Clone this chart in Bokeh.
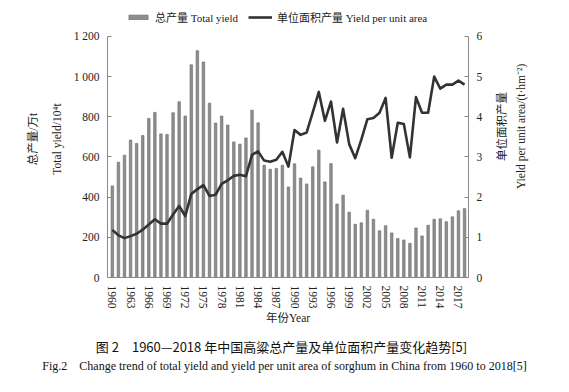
import math
from bokeh.plotting import figure
from bokeh.models import (Range1d, LinearAxis, FixedTicker, Legend, LegendItem,
                          ColumnDataSource)
from bokeh.layouts import row, column
from bokeh.core.properties import value
from bokeh.embed import file_html
from bokeh.resources import INLINE

years = list(range(1960, 2019))
total_yield = [456, 574, 609, 684, 667, 707, 792, 822, 715, 712,
               820, 875, 804, 1059, 1129, 1073, 868, 769, 804, 759,
               675, 664, 695, 833, 770, 559, 539, 543, 559, 451,
               566, 495, 466, 551, 634, 476, 567, 366, 410, 325,
               265, 272, 335, 290, 233, 258, 222, 194, 187, 170,
               247, 207, 260, 290, 292, 278, 302, 332, 343]
unit_yield = [1.18, 1.05, 0.98, 1.03, 1.09, 1.19, 1.32, 1.45, 1.34, 1.34,
              1.57, 1.78, 1.53, 2.08, 2.20, 2.30, 2.03, 2.06, 2.33, 2.42,
              2.53, 2.56, 2.52, 3.05, 3.14, 2.91, 2.88, 2.93, 3.13, 2.76,
              3.67, 3.55, 3.61, 4.11, 4.62, 3.90, 4.38, 3.36, 4.20, 3.32,
              2.97, 3.43, 3.94, 3.97, 4.10, 4.47, 2.98, 3.85, 3.82, 2.99,
              4.49, 4.10, 4.10, 5.00, 4.70, 4.80, 4.80, 4.90, 4.80]
label_years = list(range(1960, 2019, 3))
left_ticks = [0, 200, 400, 600, 800, 1000, 1200]
right_ticks = [0, 1, 2, 3, 4, 5, 6]
right_title = ["单位面积产量", "Yield per unit area/(t·hm⁻²)"]
captions = ["图 2　1960—2018 年中国高粱总产量及单位面积产量变化趋势[5]",
            "Fig.2　Change trend of total yield and yield per unit area of sorghum in China from 1960 to 2018[5]"]

SERIF = "Liberation Serif, Noto Sans CJK SC"
src = ColumnDataSource(dict(year=years, total=total_yield, unit=unit_yield))

# ---------------- main chart ----------------
p = figure(width=493, height=330, output_backend="svg", toolbar_location=None,
           x_range=Range1d(1959.2, 2018.65), y_range=Range1d(0, 1379),
           min_border_left=107, min_border_right=25, min_border_top=0,
           min_border_bottom=53)
p.outline_line_color = None
p.grid.visible = False
p.extra_y_ranges = {"right": Range1d(0, 6.895)}

bars = p.vbar(x="year", top="total", width=0.42, source=src,
              fill_color="#8e8e8e", line_color="#6a6a6a", line_width=0.6)
line = p.line(x="year", y="unit", source=src, y_range_name="right",
              line_width=2.6, line_color="#333333", line_join="round")

AX = "#8a8a8a"
xa = p.xaxis[0]
xa.ticker = FixedTicker(ticks=label_years, minor_ticks=years)
xa.major_label_orientation = "vertical"
xa.major_tick_in = 4
xa.major_tick_out = 0
xa.minor_tick_in = 3
xa.minor_tick_out = 0
xa.axis_label = "年份Year"

ya = p.yaxis[0]
ya.ticker = FixedTicker(ticks=left_ticks)
ya.bounds = (0, 1200)
ya.major_label_overrides = {1200: "1 200", 1000: "1 000"}
ya.major_tick_in = 4
ya.major_tick_out = 0
ya.axis_label = "总产量/万t\nTotal yield/10⁴t"

ra = LinearAxis(y_range_name="right", ticker=FixedTicker(ticks=right_ticks))
ra.bounds = (0, 6)
ra.major_tick_in = 4
ra.major_tick_out = 0
p.add_layout(ra, "right")

for ax in (xa, ya, ra):
    ax.axis_line_color = AX
    ax.major_tick_line_color = AX
    ax.minor_tick_line_color = AX if ax is xa else None
    ax.major_label_text_font = SERIF
    ax.major_label_text_font_size = "11.5px"
    ax.major_label_text_color = "#222222"
    ax.major_label_standoff = 8
    ax.axis_label_text_font = SERIF
    ax.axis_label_text_font_size = "11.5px"
    ax.axis_label_text_font_style = "normal"
    ax.axis_label_text_color = "#222222"
    ax.axis_label_standoff = 8
ya.axis_label_text_line_height = 2.0
xa.axis_label_standoff = 0

legend = Legend(items=[LegendItem(label="总产量 Total yield", renderers=[bars]),
                       LegendItem(label="单位面积产量 Yield per unit area", renderers=[line])],
                orientation="horizontal", location=(19, 252),
                label_text_font=SERIF, label_text_font_size="11px",
                label_text_color="#222222", glyph_width=24, glyph_height=6,
                spacing=10, margin=0, padding=2, border_line_color=None,
                background_fill_alpha=0)
p.add_layout(legend, "center")

# ---------------- right-side axis title ----------------
s = figure(width=68, height=330, output_backend="svg", toolbar_location=None,
           x_range=Range1d(0, 68), y_range=Range1d(0, 330),
           x_axis_type=None, y_axis_type=None,
           min_border_left=0, min_border_right=0, min_border_top=0,
           min_border_bottom=0)
s.outline_line_color = None
s.grid.visible = False
s.text(x=[8, 27], y=[180, 180], text=right_title, angle=math.pi / 2,
       text_align="center", text_baseline="middle",
       text_font=value(SERIF), text_font_size="11.5px", text_color="#222222")

# ---------------- caption ----------------
c = figure(width=561, height=54, output_backend="svg", toolbar_location=None,
           x_range=Range1d(0, 561), y_range=Range1d(0, 54),
           x_axis_type=None, y_axis_type=None,
           min_border_left=0, min_border_right=0, min_border_top=0,
           min_border_bottom=0)
c.outline_line_color = None
c.grid.visible = False
c.text(x=[281], y=[38], text=[captions[0]], text_align="center",
       text_baseline="middle", text_font=value("Noto Sans CJK SC"),
       text_font_size="13px", text_color="#111111")
c.text(x=[284], y=[19], text=[captions[1]], text_align="center",
       text_baseline="middle", text_font=value("Liberation Serif"),
       text_font_size="12px", text_color="#111111")

layout = column(row(p, s), c)
open("out.html", "w").write(file_html(layout, INLINE))
